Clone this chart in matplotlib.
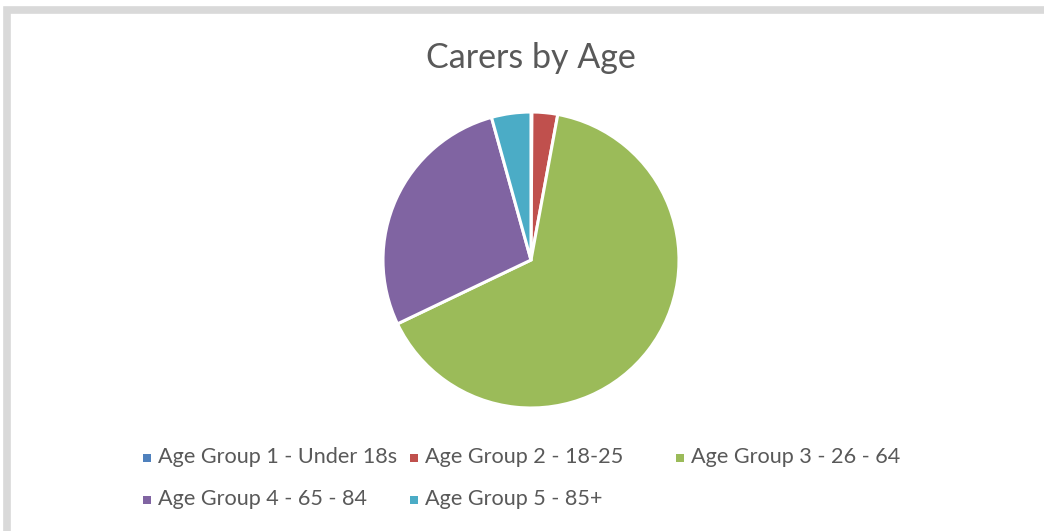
import matplotlib.pyplot as plt
from matplotlib.patches import Rectangle

plt.rcParams['font.family'] = ['Lato', 'DejaVu Sans']

labels = ['Age Group 1 - Under 18s', 'Age Group 2 - 18-25', 'Age Group 3 - 26 - 64',
          'Age Group 4 - 65 - 84', 'Age Group 5 - 85+']
values = [0.1, 2.8, 65.0, 27.8, 4.3]
colors = ['#4f81bd', '#c0504d', '#9bbb59', '#8064a2', '#4bacc6']

fig = plt.figure(figsize=(10.44, 5.31), dpi=100)
fig.patch.set_facecolor('white')

# grey frame round the chart area
fig.patches.append(Rectangle((7 / 1044, -0.1), 1.2, (531 - 10) / 531 + 0.1,
                             transform=fig.transFigure, facecolor='none',
                             edgecolor='#d9d9d9', linewidth=5.5, zorder=0))

r = 148
ax = fig.add_axes([(531 - r) / 1044, (531 - 260 - r) / 531, 2 * r / 1044, 2 * r / 531])
ax.pie(values, colors=colors, startangle=90, counterclock=False, radius=1,
       wedgeprops=dict(edgecolor='white', linewidth=2.2))
ax.set_xlim(-1, 1)
ax.set_ylim(-1, 1)
ax.set_aspect('equal')

fig.text(531 / 1044, 1 - 58 / 531, 'Carers by Age', ha='center', va='center',
         fontsize=24.5, color='#595959')

# legend, three columns
xs = [147, 414, 680, 147, 414]
ys = [458, 458, 458, 500, 500]
for lab, col, x, y in zip(labels, colors, xs, ys):
    fig.patches.append(Rectangle(((x - 4) / 1044, 1 - (y + 4) / 531), 8 / 1044, 8 / 531,
                                 transform=fig.transFigure, facecolor=col,
                                 edgecolor='none'))
    fig.text((x + 11) / 1044, 1 - (y - 1) / 531, lab, ha='left', va='center',
             fontsize=15.6, color='#595959')

fig.savefig('out.png', dpi=100)
